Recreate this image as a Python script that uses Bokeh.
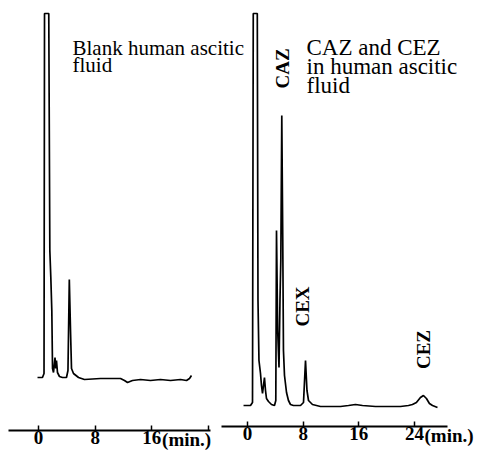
import math
from bokeh.plotting import figure
from bokeh.models import Range1d, FixedTicker, LinearAxis
from bokeh.core.properties import value
from bokeh.embed import file_html
from bokeh.resources import INLINE

# ---- data (retention time in min, detector response in arbitrary units) ----
blank_t = [-0.14, 0.56, 0.78, 0.85, 1.45, 1.60, 1.74, 1.88, 1.98, 2.12, 2.33, 2.44, 2.54,
           2.68, 2.96, 3.39, 3.95, 4.16, 4.35, 4.52, 4.66, 4.94, 5.65, 6.49, 8.75,
           11.58, 12.14, 12.57, 13.27, 14.40, 15.81, 17.22, 18.64, 20.05, 20.90, 21.32, 21.60]
blank_v = [53, 53, 57, 417, 417, 180, 153, 120, 62, 58, 73, 62, 70,
           58, 54, 53, 53, 60, 151, 100, 62, 57, 53, 51, 52,
           52, 50, 48, 50, 51, 50, 51, 50, 51, 50, 52, 55]

sample_t = [-0.57, 0.43, 0.72, 0.83, 1.41, 1.51, 1.65, 1.87, 2.01, 2.16, 2.30, 2.44, 2.59,
            2.73, 3.02, 3.45, 3.88, 4.07, 4.17, 4.34, 4.53, 4.67, 4.79, 4.93, 5.07,
            5.17, 5.32, 5.61, 5.89, 6.18, 6.61, 7.62, 8.05, 8.34, 8.55, 8.77, 9.34,
            10.49, 11.93, 13.37, 14.52, 15.52, 16.53, 18.40, 20.55, 21.99, 23.14, 23.71,
            24.28, 24.86, 25.29, 25.72, 26.15, 26.59, 27.31]
sample_v = [21, 21, 24, 413, 413, 126, 66, 53, 41, 33, 41, 49, 36,
            28, 25, 22, 21, 26, 196, 96, 59, 126, 166, 311, 186,
            76, 51, 34, 26, 22, 21, 21, 24, 66, 36, 26, 22,
            20, 20, 20, 21, 22, 21, 20, 20, 20, 21, 22,
            24, 29, 31, 28, 23, 21, 19]

ticks = [0, 8, 16, 24]
unit_label = "(min.)"
title_blank = ["Blank human ascitic", "fluid"]
title_sample = ["CAZ and CEZ", "in human ascitic", "fluid"]
peak_names = ["CAZ", "CEX", "CEZ"]
peak_t = [5.03, 7.90, 25.3]
peak_v = [358, 120, 77]

FONT = "Liberation Serif"

p = figure(width=477, height=453,
           x_range=Range1d(-5.365, 61.98), y_range=Range1d(-23, 430),
           output_backend="svg", toolbar_location=None,
           x_axis_location=None, y_axis_location=None,
           min_border_left=0, min_border_right=0, min_border_top=0, min_border_bottom=0)
p.extra_x_ranges = {"right": Range1d(-35.50, 33.06)}
p.extra_y_ranges = {"right": Range1d(-27, 426)}
p.grid.visible = False
p.outline_line_color = None
p.background_fill_color = "white"
p.border_fill_color = "white"


def style_axis(ax):
    ax.ticker = FixedTicker(ticks=ticks)
    ax.major_tick_in = 5
    ax.major_tick_out = 0
    ax.minor_tick_line_color = None
    ax.axis_line_width = 2
    ax.major_tick_line_width = 1.5
    ax.major_label_standoff = 0
    ax.major_label_text_font = FONT
    ax.major_label_text_font_style = "bold"
    ax.major_label_text_font_size = "19px"
    ax.major_label_text_color = "black"


ax1 = LinearAxis(fixed_location=0, bounds=(-4.24, 24.28))
style_axis(ax1)
ax1.major_label_overrides = {24: ""}
p.add_layout(ax1, "below")

ax2 = LinearAxis(x_range_name="right", y_range_name="right", fixed_location=0,
                 bounds=(-3.74, 28.74))
style_axis(ax2)
p.add_layout(ax2, "below")

# left panel: blank
p.line(blank_t, blank_v, line_color="black", line_width=1.7)
p.text(x=[4.8, 4.8], y=[383, 366], text=title_blank, text_font=value(FONT),
       text_font_size="21px", text_color="black",
       text_baseline="alphabetic", text_align="left")
p.text(x=[17.45], y=[2], text=[unit_label], text_font=value(FONT),
       text_font_size="19px", text_font_style="bold", text_color="black",
       text_baseline="top", text_align="left")

# right panel: sample
p.line(sample_t, sample_v, line_color="black", line_width=1.7,
       x_range_name="right", y_range_name="right")
p.text(x=[8.48] * 3, y=[379, 360, 341], text=title_sample, text_font=value(FONT),
       text_font_size="23px", text_color="black",
       text_baseline="alphabetic", text_align="left",
       x_range_name="right", y_range_name="right")
p.text(x=peak_t, y=peak_v, text=peak_names, angle=math.pi / 2, text_font=value(FONT),
       text_font_size="19px", text_font_style="bold", text_color="black",
       text_baseline="middle", text_align="center",
       x_range_name="right", y_range_name="right")
p.text(x=[25.44], y=[2], text=[unit_label], text_font=value(FONT),
       text_font_size="19px", text_font_style="bold", text_color="black",
       text_baseline="top", text_align="left",
       x_range_name="right", y_range_name="right")

open("out.html", "w").write(file_html(p, INLINE))
